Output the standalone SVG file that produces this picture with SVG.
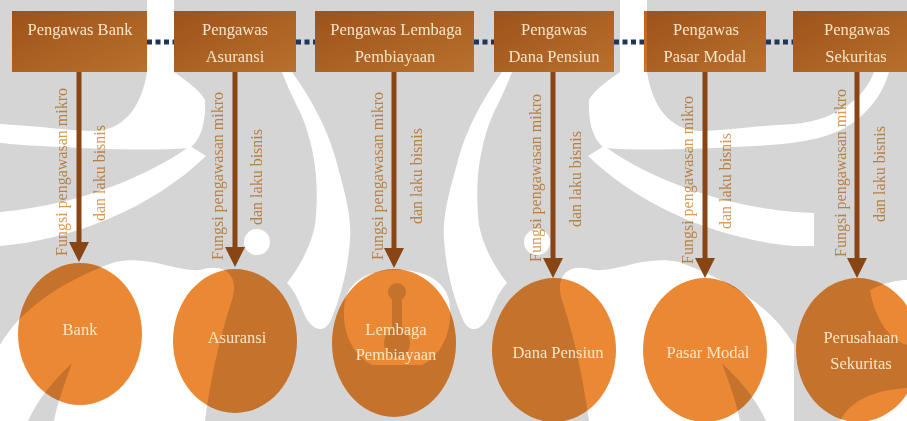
<svg xmlns="http://www.w3.org/2000/svg" xmlns:xlink="http://www.w3.org/1999/xlink" width="907" height="421" viewBox="0 0 907 421">
<style>
.wh{fill:#ffffff}
.gr{fill:#d5d5d5}
.box{fill:url(#boxg);mix-blend-mode:multiply}
.node{fill:#eb8834;mix-blend-mode:multiply}
.bt{font-family:"Liberation Serif",serif;font-size:16.5px;fill:#f6e6c6;text-anchor:middle}
.lab{font-family:"Liberation Serif",serif;font-size:16px;fill:#d99a55;text-anchor:middle;mix-blend-mode:multiply}
.arr{stroke:#8a4515;stroke-width:5;fill:none;marker-end:url(#ah)}
.dot{stroke:#1f355a;stroke-width:5;stroke-dasharray:5 3.5;fill:none}
</style>
<defs>
<linearGradient id="boxg" x1="0" y1="0" x2="1" y2="1">
<stop offset="0" stop-color="#bd621f"/>
<stop offset="1" stop-color="#dc8736"/>
</linearGradient>
<marker id="ah" viewBox="0 0 20 20" refX="5" refY="10" markerWidth="20" markerHeight="20" markerUnits="userSpaceOnUse" orient="auto">
<path d="M0,0 L20,10 L0,20 Z" fill="#8a4515"/>
</marker>
<g id="wmhalf">
<path class="wh" d="M-95,72 L-80,72 C-72,95 -45,120 0,124 C40,126 70,131 95,131 C125,130 142,105 147,72 L147,0 L174,0 L174,72 C185,80 200,90 205,100 C206,125 200,140 190,148 C150,151 95,149 40,146 C0,144 -40,140 -65,118 C-80,105 -90,90 -95,72 Z"/>
<path class="wh" d="M190,146 C150,175 80,205 0,212 L-20,213 L-20,246 L0,246 C70,240 150,210 206,156 Z"/>
<path class="wh" d="M0,345 C20,310 60,282 115,262 C150,255 175,272 200,270 C225,262 240,275 232,300 C222,330 212,370 205,421 L0,421 Z"/>
<path class="gr" d="M28,421 C40,395 55,380 72,363 C64,385 57,405 54,421 Z"/>
<circle class="wh" cx="257" cy="242" r="13"/>
<path class="wh" d="M292,72 C312,100 328,130 336,160 C344,190 352,215 350,240 C348,270 340,300 330,322 C322,335 312,328 306,318 C300,305 296,292 287,283 C300,266 311,246 315,225 C319,190 317,150 300,112 C294,100 288,88 282,72 Z"/>
<circle class="gr" cx="305" cy="340" r="12"/>
<path class="wh" d="M345,300 C350,280 370,270 396,270 C422,270 442,280 447,300 C452,330 440,355 420,365 L372,365 C352,355 340,330 345,300 Z"/>
<circle class="gr" cx="397" cy="292" r="9"/>
<rect class="gr" x="392" y="292" width="10" height="42"/>
<ellipse class="gr" cx="397" cy="343" rx="13" ry="15"/>
</g>
</defs>
<rect width="907" height="421" fill="#ffffff"/>
<g id="watermark">
<rect class="gr" width="907" height="421"/>
<use xlink:href="#wmhalf" href="#wmhalf"/>
<use xlink:href="#wmhalf" href="#wmhalf" transform="matrix(-1 0 0 1 794 0)"/>
<path class="wh" d="M870,290 C885,282 900,280 907,280 L907,345 C890,340 875,320 870,290 Z"/>
<path class="wh" d="M840,421 C850,400 875,390 907,388 L907,421 Z"/>
</g>
<g id="connectors">
<line class="dot" x1="147" y1="42" x2="174" y2="42"/>
<line class="dot" x1="296" y1="42" x2="315" y2="42"/>
<line class="dot" x1="474" y1="42" x2="494" y2="42"/>
<line class="dot" x1="614" y1="42" x2="644" y2="42"/>
<line class="dot" x1="766" y1="42" x2="793" y2="42"/>
<line class="arr" x1="79" y1="72" x2="79" y2="247"/>
<line class="arr" x1="235" y1="72" x2="235" y2="252"/>
<line class="arr" x1="394" y1="72" x2="394" y2="253"/>
<line class="arr" x1="553" y1="72" x2="553" y2="263"/>
<line class="arr" x1="705" y1="72" x2="705" y2="263"/>
<line class="arr" x1="857" y1="72" x2="857" y2="263"/>
<text class="lab" transform="translate(66.5,172) rotate(-90)">Fungsi pengawasan mikro</text>
<text class="lab" transform="translate(104.5,173) rotate(-90)">dan laku bisnis</text>
<text class="lab" transform="translate(222.5,176) rotate(-90)">Fungsi pengawasan mikro</text>
<text class="lab" transform="translate(261.5,177) rotate(-90)">dan laku bisnis</text>
<text class="lab" transform="translate(382.5,176) rotate(-90)">Fungsi pengawasan mikro</text>
<text class="lab" transform="translate(421.5,176) rotate(-90)">dan laku bisnis</text>
<text class="lab" transform="translate(540.5,178) rotate(-90)">Fungsi pengawasan mikro</text>
<text class="lab" transform="translate(580.5,179) rotate(-90)">dan laku bisnis</text>
<text class="lab" transform="translate(692.5,180) rotate(-90)">Fungsi pengawasan mikro</text>
<text class="lab" transform="translate(730.5,181) rotate(-90)">dan laku bisnis</text>
<text class="lab" transform="translate(845.5,173) rotate(-90)">Fungsi pengawasan mikro</text>
<text class="lab" transform="translate(884.5,174) rotate(-90)">dan laku bisnis</text>
</g>
<g id="pengawas-bank"><rect class="box" x="12" y="11" width="135" height="61"/><text class="bt" x="80" y="35">Pengawas Bank</text></g>
<g id="pengawas-asuransi"><rect class="box" x="174" y="11" width="122" height="61"/><text class="bt" x="235" y="35">Pengawas</text><text class="bt" x="235" y="62">Asuransi</text></g>
<g id="pengawas-lembaga"><rect class="box" x="315" y="11" width="159" height="61"/><text class="bt" x="396" y="35">Pengawas Lembaga</text><text class="bt" x="395" y="62">Pembiayaan</text></g>
<g id="pengawas-dana"><rect class="box" x="494" y="11" width="120" height="61"/><text class="bt" x="554" y="35">Pengawas</text><text class="bt" x="554" y="62">Dana Pensiun</text></g>
<g id="pengawas-pasar"><rect class="box" x="644" y="11" width="122" height="61"/><text class="bt" x="706" y="35">Pengawas</text><text class="bt" x="705" y="62">Pasar Modal</text></g>
<g id="pengawas-sekuritas"><rect class="box" x="793" y="11" width="122" height="61"/><text class="bt" x="857" y="35">Pengawas</text><text class="bt" x="856" y="62">Sekuritas</text></g>
<g id="bank"><ellipse class="node" cx="80" cy="334" rx="62" ry="71"/><text class="bt" x="80" y="335">Bank</text></g>
<g id="asuransi"><ellipse class="node" cx="235" cy="341" rx="62" ry="72"/><text class="bt" x="237" y="343">Asuransi</text></g>
<g id="lembaga"><ellipse class="node" cx="394" cy="343" rx="62" ry="74"/><text class="bt" x="396" y="335">Lembaga</text><text class="bt" x="396" y="360">Pembiayaan</text></g>
<g id="dana"><ellipse class="node" cx="554" cy="350" rx="62" ry="72"/><text class="bt" x="558" y="358">Dana Pensiun</text></g>
<g id="pasar"><ellipse class="node" cx="705" cy="350" rx="62" ry="72"/><text class="bt" x="708" y="358">Pasar Modal</text></g>
<g id="sekuritas"><ellipse class="node" cx="858" cy="350" rx="62" ry="72"/><text class="bt" x="861" y="343">Perusahaan</text><text class="bt" x="861" y="369">Sekuritas</text></g>
</svg>
